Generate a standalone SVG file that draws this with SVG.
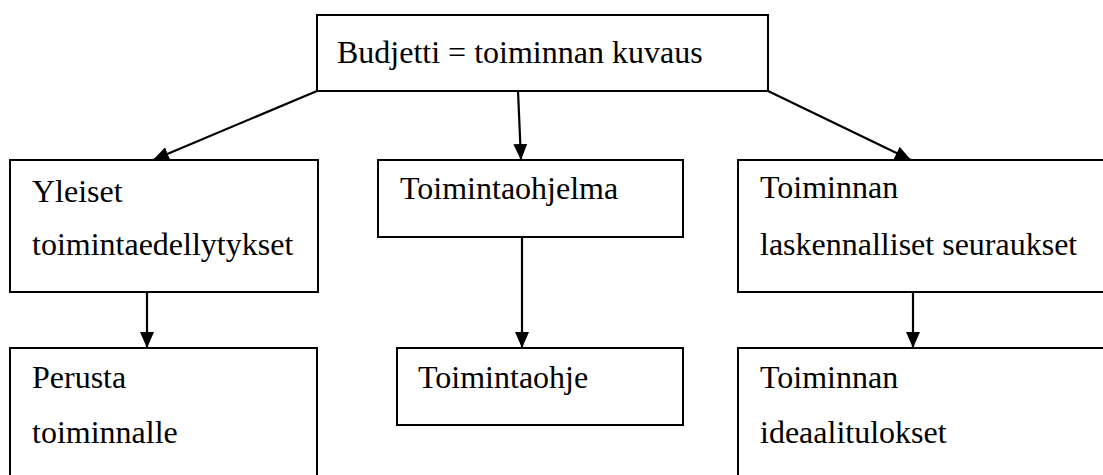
<svg xmlns="http://www.w3.org/2000/svg" width="1103" height="475" viewBox="0 0 1103 475">
  <style>
    .box { fill: #ffffff; stroke: #000000; stroke-width: 2; }
    .lbl { font-family: "Liberation Serif", "Times New Roman", serif; font-size: 32px; fill: #000000; }
    .edge { fill: none; stroke: #000000; stroke-width: 2.2; }
  </style>
  <defs>
    <!-- solid triangular arrowhead shared by all connectors -->
    <marker id="head" viewBox="0 0 16 14" refX="16" refY="7" markerWidth="16" markerHeight="14" markerUnits="userSpaceOnUse" orient="auto">
      <path d="M0,0 L16,7 L0,14 Z" fill="#000000"/>
    </marker>
  </defs>

  <rect width="1103" height="475" fill="#ffffff"/>

  <g id="connectors">
    <path class="edge" d="M317,91 L153,160" marker-end="url(#head)"/>
    <path class="edge" d="M518,91 L521,160" marker-end="url(#head)"/>
    <path class="edge" d="M768,91 L911,160" marker-end="url(#head)"/>
    <path class="edge" d="M147,292 L147,348" marker-end="url(#head)"/>
    <path class="edge" d="M522,237 L522,348" marker-end="url(#head)"/>
    <path class="edge" d="M913,292 L913,348" marker-end="url(#head)"/>
  </g>

  <g id="budjetti">
    <rect class="box" x="317" y="15" width="451" height="76"/>
    <text class="lbl" x="337" y="63">Budjetti = toiminnan kuvaus</text>
  </g>

  <g id="yleiset">
    <rect class="box" x="10" y="160" width="308" height="132"/>
    <text class="lbl" x="32" y="202">Yleiset</text>
    <text class="lbl" x="32" y="255">toimintaedellytykset</text>
  </g>

  <g id="toimintaohjelma">
    <rect class="box" x="378" y="160" width="305" height="77"/>
    <text class="lbl" x="400" y="199">Toimintaohjelma</text>
  </g>

  <g id="seuraukset">
    <rect class="box" x="738" y="160" width="380" height="132"/>
    <text class="lbl" x="760" y="198">Toiminnan</text>
    <text class="lbl" x="760" y="255">laskennalliset seuraukset</text>
  </g>

  <g id="perusta">
    <rect class="box" x="10" y="348" width="307" height="140"/>
    <text class="lbl" x="32" y="388">Perusta</text>
    <text class="lbl" x="32" y="443">toiminnalle</text>
  </g>

  <g id="toimintaohje">
    <rect class="box" x="397" y="348" width="286" height="77"/>
    <text class="lbl" x="418" y="388">Toimintaohje</text>
  </g>

  <g id="ideaalitulokset">
    <rect class="box" x="738" y="348" width="380" height="140"/>
    <text class="lbl" x="760" y="388">Toiminnan</text>
    <text class="lbl" x="760" y="443">ideaalitulokset</text>
  </g>
</svg>
